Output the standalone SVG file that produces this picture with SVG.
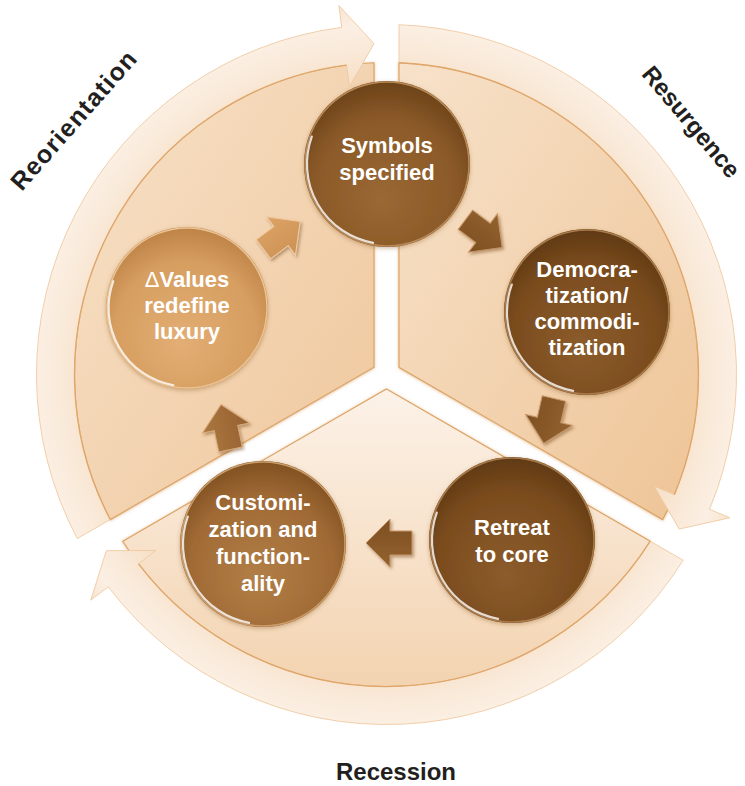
<svg xmlns="http://www.w3.org/2000/svg" width="745" height="786" viewBox="0 0 745 786">
  <style>
    .sector { stroke: #dda568; stroke-width: 1.2; }
    .ring { fill: url(#gRing); stroke: #efcaa0; stroke-width: 0.9; }
    .ringline { fill: none; stroke: #dfa66a; stroke-width: 1.3; }
    .phase { font-family: "Liberation Sans", Arial, sans-serif; font-weight: 700; fill: #231f20; }
    .ntext { font-family: "Liberation Sans", Arial, sans-serif; font-weight: 700; font-size: 22px; fill: #ffffff; text-anchor: middle; }
    .rim { fill: none; stroke: #ffffff; stroke-opacity: 0.8; stroke-width: 2.2; stroke-linecap: round; }
    .edge { fill: none; stroke-width: 1.5; }
  </style>
  <defs>
    <!-- sector fills -->
    <linearGradient id="gSecA" x1="0" y1="0" x2="1" y2="1">
      <stop offset="0" stop-color="#f7e2ca"/>
      <stop offset="1" stop-color="#eec496"/>
    </linearGradient>
    <linearGradient id="gSecB" x1="0" y1="0" x2="0" y2="1">
      <stop offset="0" stop-color="#fcf2e8"/>
      <stop offset="1" stop-color="#f3d3b0"/>
    </linearGradient>
    <linearGradient id="gSecC" x1="0" y1="0" x2="1" y2="1">
      <stop offset="0" stop-color="#f7e1c8"/>
      <stop offset="1" stop-color="#efc79c"/>
    </linearGradient>
    <radialGradient id="gRing" gradientUnits="userSpaceOnUse" cx="386.5" cy="374.5" r="372">
      <stop offset="0.78" stop-color="#f6dfc6"/>
      <stop offset="0.86" stop-color="#f9e8d6"/>
      <stop offset="0.94" stop-color="#fbefe3"/>
      <stop offset="1" stop-color="#f8e4cf"/>
    </radialGradient>
    <!-- node fills -->
    <radialGradient id="gSym" cx="50%" cy="62%" r="60%" fx="46%" fy="72%">
      <stop offset="0" stop-color="#9a6833"/>
      <stop offset="0.72" stop-color="#8a5928"/>
      <stop offset="1" stop-color="#6e4419"/>
    </radialGradient>
    <radialGradient id="gDem" cx="50%" cy="62%" r="60%" fx="46%" fy="72%">
      <stop offset="0" stop-color="#8c5c2b"/>
      <stop offset="0.72" stop-color="#7b4c1e"/>
      <stop offset="1" stop-color="#623b13"/>
    </radialGradient>
    <radialGradient id="gCus" cx="50%" cy="62%" r="60%" fx="46%" fy="72%">
      <stop offset="0" stop-color="#b27f47"/>
      <stop offset="0.72" stop-color="#a06a35"/>
      <stop offset="1" stop-color="#835323"/>
    </radialGradient>
    <radialGradient id="gVal" cx="50%" cy="62%" r="60%" fx="46%" fy="72%">
      <stop offset="0" stop-color="#e3ae74"/>
      <stop offset="0.72" stop-color="#d69e60"/>
      <stop offset="1" stop-color="#c08549"/>
    </radialGradient>
    <!-- block arrow fills -->
    <linearGradient id="gArDark" x1="0" y1="0" x2="0" y2="1">
      <stop offset="0" stop-color="#93622f"/>
      <stop offset="1" stop-color="#7d4f21"/>
    </linearGradient>
    <linearGradient id="gArMid" x1="0" y1="0" x2="0" y2="1">
      <stop offset="0" stop-color="#ab773f"/>
      <stop offset="1" stop-color="#966131"/>
    </linearGradient>
    <linearGradient id="gArLight" x1="0" y1="0" x2="0" y2="1">
      <stop offset="0" stop-color="#dda466"/>
      <stop offset="1" stop-color="#cc9154"/>
    </linearGradient>
    <path id="blk" d="M24,0 L0,-24 L0,-12 L-22,-12 L-22,12 L0,12 L0,24 Z"/>
    <path id="rimArc" d="M-13.9,78.8 A80,80 0 0 1 -75.2,-27.4"/>
    <filter id="secShadow" x="-10%" y="-10%" width="120%" height="120%">
      <feDropShadow dx="0" dy="0.5" stdDeviation="1.4" flood-color="#d08c48" flood-opacity="0.55"/>
    </filter>
    <filter id="arShadow" x="-40%" y="-40%" width="180%" height="180%">
      <feDropShadow dx="1.5" dy="2" stdDeviation="1.5" flood-color="#6b4318" flood-opacity="0.45"/>
    </filter>
    <filter id="nodeShadow" x="-20%" y="-20%" width="140%" height="140%">
      <feDropShadow dx="0" dy="1.5" stdDeviation="2" flood-color="#7a4a1a" flood-opacity="0.35"/>
    </filter>
  </defs>

  <rect width="745" height="786" fill="#ffffff"/>

  <!-- three cycle sectors -->
  <g id="sectors" filter="url(#secShadow)">
    <path class="sector" fill="url(#gSecA)" d="M399,367.3 L399,62.75 A312,312 0 0 1 662.74,519.55 Z"/>
    <path class="sector" fill="url(#gSecB)" d="M386.5,388.93 L650.24,541.2 A312,312 0 0 1 122.76,541.2 Z"/>
    <path class="sector" fill="url(#gSecC)" d="M374,367.3 L110.26,519.55 A312,312 0 0 1 374,62.75 Z"/>
  </g>

  <!-- curved phase arrows around the rim -->
  <g id="phase-arrows">
    <path class="ring" d="M399,24.72 A350,350 0 0 1 709.51,509.29 L729.81,517.76 L679.2,529.05 L654.14,486.18 L674.44,494.65 A312,312 0 0 0 399,62.75 Z"/>
    <path class="ring" d="M683.17,560.22 A350,350 0 0 1 108.26,586.85 L90.77,600.19 L106.3,550.71 L155.96,550.44 L138.47,563.79 A312,312 0 0 0 650.24,541.2 Z"/>
    <path class="ring" d="M77.33,538.56 A350,350 0 0 1 341.72,27.38 L338.91,5.56 L374,43.73 L349.4,86.88 L346.59,65.06 A312,312 0 0 0 110.26,519.55 Z"/>
    <path class="ringline" d="M399,62.75 A312,312 0 0 1 674.44,494.65"/>
    <path class="ringline" d="M650.24,541.2 A312,312 0 0 1 138.47,563.79"/>
    <path class="ringline" d="M110.26,519.55 A312,312 0 0 1 346.59,65.06"/>
  </g>

  <!-- phase labels -->
  <g id="labels">
    <text class="phase" font-size="25" text-anchor="middle" textLength="176" lengthAdjust="spacing" transform="translate(80,126) rotate(-48.6)">Reorientation</text>
    <text class="phase" font-size="24" text-anchor="middle" transform="translate(685,127) rotate(50)">Resurgence</text>
    <text class="phase" font-size="24" text-anchor="middle" x="396" y="780">Recession</text>
  </g>

  <!-- connectors between stages -->
  <g id="connectors">
    <g filter="url(#arShadow)"><use href="#blk" transform="translate(483,233) rotate(37)" fill="url(#gArDark)" stroke="#c89666" stroke-width="1"/></g>
    <g filter="url(#arShadow)"><use href="#blk" transform="translate(549,420) rotate(103)" fill="url(#gArDark)" stroke="#c89666" stroke-width="1"/></g>
    <g filter="url(#arShadow)"><use href="#blk" transform="translate(390,543) rotate(180)" fill="url(#gArDark)" stroke="#c89666" stroke-width="1"/></g>
    <g filter="url(#arShadow)"><use href="#blk" transform="translate(226,428) rotate(-102)" fill="url(#gArMid)" stroke="#d9ab7a" stroke-width="1"/></g>
    <g filter="url(#arShadow)"><use href="#blk" transform="translate(281,236) rotate(-37)" fill="url(#gArLight)" stroke="#f1cda3" stroke-width="1"/></g>
  </g>

  <!-- stage nodes -->
  <g id="node-symbols" transform="translate(387,164)">
    <circle r="83" fill="url(#gSym)" filter="url(#nodeShadow)"/>
    <circle r="82" class="edge" stroke="#b88a58"/>
    <use href="#rimArc" class="rim"/>
    <text class="ntext" y="-11">Symbols</text>
    <text class="ntext" y="16">specified</text>
  </g>

  <g id="node-democratization" transform="translate(587,312)">
    <circle r="83" fill="url(#gDem)" filter="url(#nodeShadow)"/>
    <circle r="82" class="edge" stroke="#a97b4b"/>
    <use href="#rimArc" class="rim"/>
    <text class="ntext" y="-35">Democra-</text>
    <text class="ntext" y="-9">tization/</text>
    <text class="ntext" y="17">commodi-</text>
    <text class="ntext" y="43">tization</text>
  </g>

  <g id="node-retreat" transform="translate(512,540)">
    <circle r="83" fill="url(#gDem)" filter="url(#nodeShadow)"/>
    <circle r="82" class="edge" stroke="#a97b4b"/>
    <use href="#rimArc" class="rim"/>
    <text class="ntext" y="-5">Retreat</text>
    <text class="ntext" y="22">to core</text>
  </g>

  <g id="node-customization" transform="translate(263,544)">
    <circle r="83" fill="url(#gCus)" filter="url(#nodeShadow)"/>
    <circle r="82" class="edge" stroke="#c99c6a"/>
    <use href="#rimArc" class="rim"/>
    <text class="ntext" y="-34">Customi-</text>
    <text class="ntext" y="-7">zation and</text>
    <text class="ntext" y="20">function-</text>
    <text class="ntext" y="47">ality</text>
  </g>

  <g id="node-values" transform="translate(187,308)">
    <circle r="81" fill="url(#gVal)" filter="url(#nodeShadow)"/>
    <circle r="80" class="edge" stroke="#ebc394"/>
    <use href="#rimArc" class="rim" transform="scale(0.98)"/>
    <text class="ntext" y="-21"><tspan font-weight="400">Δ</tspan>Values</text>
    <text class="ntext" y="5">redefine</text>
    <text class="ntext" y="31">luxury</text>
  </g>
</svg>
